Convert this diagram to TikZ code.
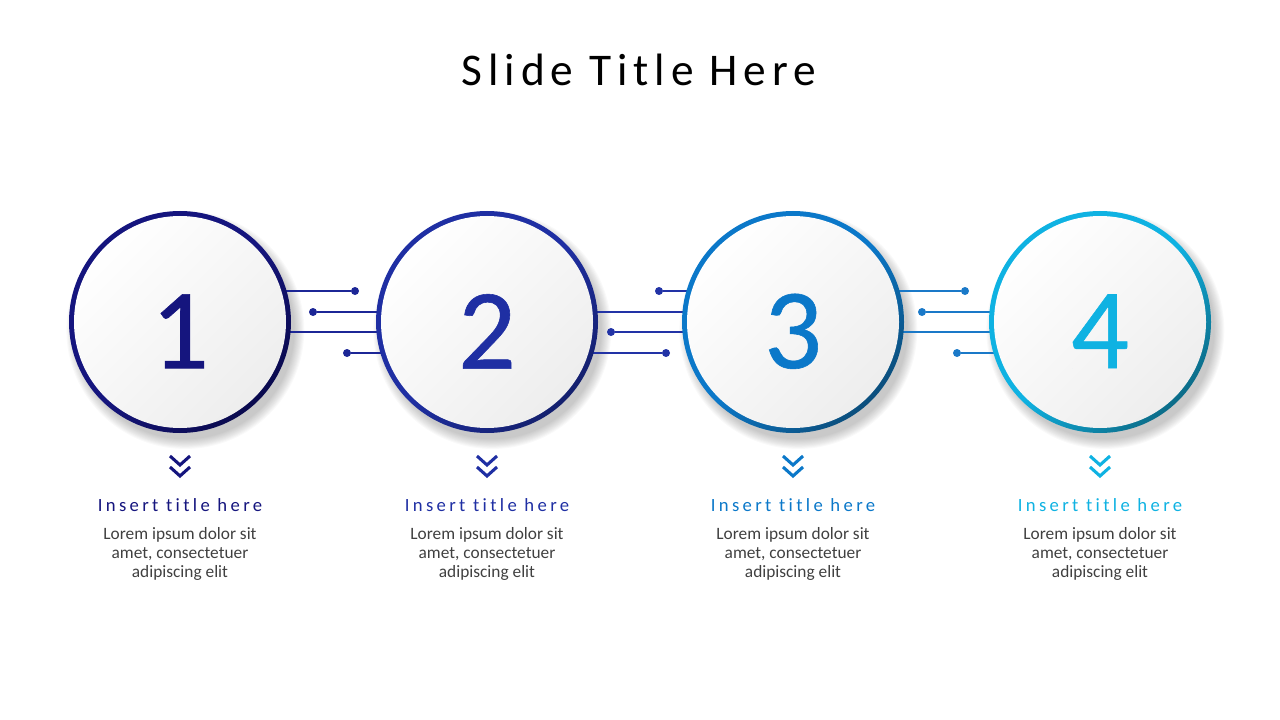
\documentclass[tikz,border=0pt]{standalone}
\usepackage{fontspec}
\setmainfont{Carlito}
\newfontfamily\titlefont[LetterSpace=13]{Carlito}
\newfontfamily\headfont[LetterSpace=18, Ligatures=NoCommon]{Carlito}
\newfontfamily\digitfont[FakeBold=0.5]{Carlito}
\usetikzlibrary{calc,positioning}

\definecolor{c1}{HTML}{15157E}
\definecolor{c1d}{HTML}{0A0A4E}
\definecolor{c2}{HTML}{1F2FA3}
\definecolor{c2d}{HTML}{14206E}
\definecolor{c3}{HTML}{0B78C9}
\definecolor{c3d}{HTML}{0B4E7C}
\definecolor{c4}{HTML}{0FB2E2}
\definecolor{c4d}{HTML}{0C6C88}
\definecolor{w1}{HTML}{1C2696}
\definecolor{w2}{HTML}{2233A6}
\definecolor{w3}{HTML}{1A79C8}

\pgfdeclarelayer{shadow}
\pgfdeclarelayer{wires}
\pgfsetlayers{shadow,wires,main}

\tikzset{
  ring/.style  = {circle, minimum size=166.5pt, inner sep=0pt,
                  top color=c#1, bottom color=c#1d, middle color=c#1,
                  shading angle=45,
                  path picture={\shade[top color=white, bottom color=black!7,
                    shading angle=45] (path picture bounding box.center)
                    circle (79.5pt);}},
  digit/.style = {text=c#1, font=\digitfont\fontsize{86}{86}\selectfont,
                  inner sep=0pt},
  head/.style  = {text=c#1, font=\headfont\fontsize{14}{16}\selectfont,
                  inner sep=0pt},
  body/.style  = {text=black!75, font=\fontsize{13}{14.25}\selectfont,
                  align=center, inner sep=0pt},
  dot/.style   = {circle, fill=#1, inner sep=0pt, minimum size=6pt},
  wire/.style  = {draw=#1, line width=1.6pt},
  chev/.style  = {draw=c#1, line width=2.3pt}
}

\begin{document}
\begin{tikzpicture}[x=0.75pt, y=-0.75pt]
\useasboundingbox (0,0) rectangle (1280,720);

% slide title
\node[font=\titlefont\fontsize{34}{40}\selectfont, inner sep=0pt] (title)
  at (639,70) {Slide Title Here};

% the four steps
\node[ring=1] (n1) at (180,322) {};
\node[ring=2] (n2) at (487,322) {};
\node[ring=3] (n3) at (793,322) {};
\node[ring=4] (n4) at (1100,322) {};

% numbers, set a little below the centre
\node[digit=1, yshift=-7pt] (d1) at (n1) {1};
\node[digit=2, yshift=-7pt] (d2) at (n2) {2};
\node[digit=3, yshift=-7pt] (d3) at (n3) {3};
\node[digit=4, yshift=-7pt] (d4) at (n4) {4};

% soft shadows behind the rings
\begin{pgfonlayer}{shadow}
\foreach \s in {n1,n2,n3,n4}
  \foreach \k in {0,...,9}
    \fill[black, opacity=0.022] ([shift={(4pt,-6pt)}]\s.center)
      circle (82pt+\k*0.8pt);
\end{pgfonlayer}

% wires between the rings
\begin{pgfonlayer}{wires}
\node[dot=w1] (p1) at (355,291) {};
\node[dot=w1] (p2) at (313,312) {};
\node[dot=w1] (p3) at (347,353) {};
\draw[wire=w1] (n1.center |- p1) -- (p1);
\draw[wire=w1] (p2) -- (p2 -| n2.center);
\draw[wire=w1] ([yshift=-7.5pt]n1.center) -- ([yshift=-7.5pt]n2.center);
\draw[wire=w1] (p3) -- (p3 -| n2.center);

\node[dot=w2] (q1) at (659,291) {};
\node[dot=w2] (q2) at (611,332) {};
\node[dot=w2] (q3) at (666,353) {};
\draw[wire=w2] (q1) -- (q1 -| n3.center);
\draw[wire=w2] ([yshift=7.5pt]n2.center) -- ([yshift=7.5pt]n3.center);
\draw[wire=w2] (q2) -- (q2 -| n3.center);
\draw[wire=w2] (n2.center |- q3) -- (q3);

\node[dot=w3] (r1) at (965,291) {};
\node[dot=w3] (r2) at (922,312) {};
\node[dot=w3] (r3) at (957,353) {};
\draw[wire=w3] (n3.center |- r1) -- (r1);
\draw[wire=w3] (r2) -- (r2 -| n4.center);
\draw[wire=w3] ([yshift=-7.5pt]n3.center) -- ([yshift=-7.5pt]n4.center);
\draw[wire=w3] (r3) -- (r3 -| n4.center);
\end{pgfonlayer}

% double chevrons under each ring
\draw[chev=1] ($(n1)+(-10,134)$) -- ++(10,9) -- ++(10,-9)
              ($(n1)+(-10,145)$) -- ++(10,9) -- ++(10,-9);
\draw[chev=2] ($(n2)+(-10,134)$) -- ++(10,9) -- ++(10,-9)
              ($(n2)+(-10,145)$) -- ++(10,9) -- ++(10,-9);
\draw[chev=3] ($(n3)+(-10,134)$) -- ++(10,9) -- ++(10,-9)
              ($(n3)+(-10,145)$) -- ++(10,9) -- ++(10,-9);
\draw[chev=4] ($(n4)+(-10,134)$) -- ++(10,9) -- ++(10,-9)
              ($(n4)+(-10,145)$) -- ++(10,9) -- ++(10,-9);

% titles and texts
\node[head=1] (h1) at ([yshift=-54pt]n1.south) {Insert title here};
\node[head=2] (h2) at ([yshift=-54pt]n2.south) {Insert title here};
\node[head=3] (h3) at ([yshift=-54pt]n3.south) {Insert title here};
\node[head=4] (h4) at ([yshift=-54pt]n4.south) {Insert title here};

\node[body, below=11pt of h1] (b1) {Lorem ipsum dolor sit\\amet, consectetuer\\adipiscing elit};
\node[body, below=11pt of h2] (b2) {Lorem ipsum dolor sit\\amet, consectetuer\\adipiscing elit};
\node[body, below=11pt of h3] (b3) {Lorem ipsum dolor sit\\amet, consectetuer\\adipiscing elit};
\node[body, below=11pt of h4] (b4) {Lorem ipsum dolor sit\\amet, consectetuer\\adipiscing elit};
\end{tikzpicture}
\end{document}
